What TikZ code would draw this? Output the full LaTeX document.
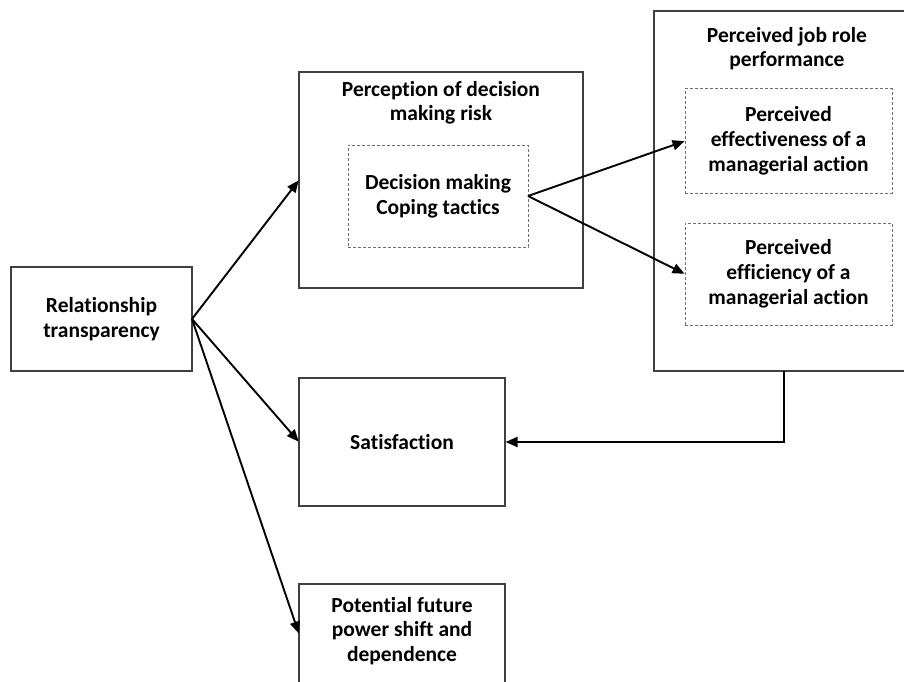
\documentclass[tikz,border=0pt]{standalone}
\usepackage{fontspec}
\setmainfont[Ligatures=NoCommon]{Carlito}
\usetikzlibrary{arrows.meta,calc}

\definecolor{boxline}{HTML}{404040}
\definecolor{dashline}{HTML}{6F6F6F}

\tikzset{
  solidbox/.style={draw=boxline, line width=1.2pt, fill=white, inner sep=0pt, outer sep=0pt, anchor=north west},
  dashbox/.style={draw=dashline, line width=1pt, dash pattern=on 3pt off 2pt, inner sep=0pt, outer sep=0pt, anchor=north west, align=center, font=\lbl},
  lbl/.style={inner sep=0pt, outer sep=0pt, align=center, font=\lbl},
  link/.style={line width=1.9pt, black, -{Triangle[length=12pt,width=10pt]}, shorten >=0.5pt}
}
\newcommand{\lbl}{\fontsize{21.5}{24.8}\selectfont\bfseries}

\begin{document}
\begin{tikzpicture}[x=1pt,y=-1pt]
  \useasboundingbox (0,0) rectangle (904,682);
  \clip (0,0) rectangle (904,682);
  \fill[white] (0,0) rectangle (904,682);

  % boxes
  \node[solidbox, minimum width=181pt, minimum height=104pt] (rel) at (11,267) {};
  \node[lbl] at (rel.center) {Relationship\\transparency};

  \node[solidbox, minimum width=284pt, minimum height=216pt] (perc) at (299,72) {};
  \node[lbl, anchor=north] at ($(perc.north)+(0,9)$) {Perception of decision\\making risk};
  \node[dashbox, minimum width=180pt, minimum height=102pt] (cope) at (348,145) {Decision making\\Coping tactics};

  \node[solidbox, minimum width=260pt, minimum height=360pt] (job) at (654,11) {};
  \node[lbl, anchor=north] at (787,27) {Perceived job role\\performance};
  \node[dashbox, minimum width=207pt, minimum height=104pt] (eff) at (685,89) {Perceived\\effectiveness of a\\managerial action};
  \node[dashbox, minimum width=207pt, minimum height=102pt] (effi) at (685,223) {Perceived\\efficiency of a\\managerial action};

  \node[solidbox, minimum width=206pt, minimum height=128pt] (sat) at (299,378) {};
  \node[lbl] at (sat.center) {Satisfaction};

  \node[solidbox, minimum width=206pt, minimum height=100pt] (pot) at (299,584) {};
  \node[lbl, anchor=north] at ($(pot.north)+(0,13)$) {Potential future\\power shift and\\dependence};

  % connectors
  \draw[link] (rel.east) -- (perc.west);
  \draw[link] (rel.east) -- (sat.west);
  \draw[link] (rel.east) -- (pot.west);
  \draw[link] (cope.east) -- (eff.west);
  \draw[link] (cope.east) -- (effi.west);
  \draw[link] (job.south) |- (sat.east);
\end{tikzpicture}
\end{document}
